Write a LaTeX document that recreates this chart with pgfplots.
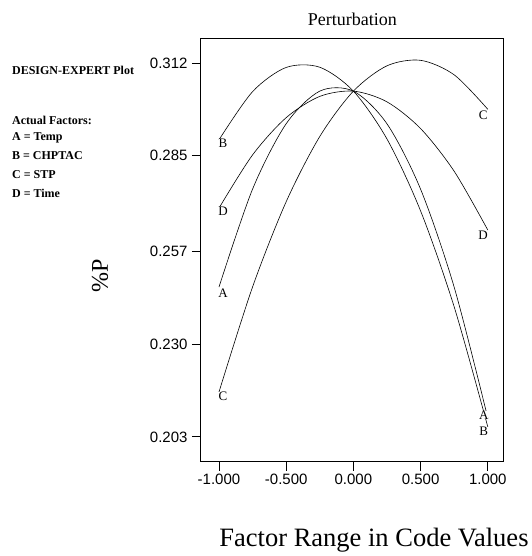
\documentclass[border=0pt]{standalone}
\usepackage{fontspec}
\setmainfont{Liberation Serif}
\setsansfont{Liberation Sans}
\usepackage{pgfplots}
\pgfplotsset{compat=1.18}
\begin{document}
\begin{tikzpicture}
\begin{axis}[
  scale only axis, width=303pt, height=423pt,
  xmin=-1.134, xmax=1.12, ymin=0.1957, ymax=0.319,
  xtick={-1,-0.5,0,0.5,1},
  xticklabels={-1.000,-0.500,0.000,0.500,1.000},
  ytick={0.203,0.230,0.257,0.285,0.312},
  yticklabels={0.203,0.230,0.257,0.285,0.312},
  tick align=outside, major tick length=9pt,
  xtick pos=left, ytick pos=left,
  axis line style={line width=1pt},
  tick style={line width=0.9pt, black},
  ticklabel style={font=\sffamily\fontsize{15}{15}\selectfont},
  yticklabel style={xshift=-1pt},
  title={Perturbation},
  title style={font=\fontsize{18}{18}\selectfont, at={(0.5,1)}, anchor=base, yshift=7pt},
  xlabel={Factor Range in Code Values},
  xlabel style={font=\fontsize{26.5}{26.5}\selectfont, at={(0.571,0)}, anchor=base, yshift=-85pt},
  ylabel={\%P},
  ylabel style={font=\fontsize{24}{24}\selectfont, at={(0,0.44)}, anchor=center, yshift=101pt},
  clip=false,
]
% A
\addplot[black, line width=0.6pt, smooth, no marks] coordinates {(-1,0.2467) (-0.75,0.27526) (-0.5,0.2943) (-0.25,0.30381) (0,0.3038) (0.25,0.29426) (0.5,0.2752) (0.75,0.24661) (1,0.2085)};
% B
\addplot[black, line width=0.6pt, smooth, no marks] coordinates {(-1,0.2896) (-0.75,0.30366) (-0.5,0.31071) (-0.25,0.31076) (0,0.3038) (0.25,0.28983) (0.5,0.26886) (0.75,0.24088) (1,0.2059)};
% C
\addplot[black, line width=0.6pt, smooth, no marks] coordinates {(-1,0.2161) (-0.75,0.24674) (-0.5,0.27158) (-0.25,0.29059) (0,0.3038) (0.25,0.31119) (0.5,0.31278) (0.75,0.30854) (1,0.2985)};
% D
\addplot[black, line width=0.6pt, smooth, no marks] coordinates {(-1,0.2697) (-0.75,0.28522) (-0.5,0.29608) (-0.25,0.30227) (0,0.3038) (0.25,0.30067) (0.5,0.29288) (0.75,0.28042) (1,0.2633)};

\begin{scope}[every node/.style={font=\fontsize{13}{13}\selectfont, inner sep=0pt, fill=white}]
\node at (axis cs:-0.97,0.2885) {B};
\node at (axis cs:-0.97,0.2689) {D};
\node at (axis cs:-0.97,0.2450) {A};
\node at (axis cs:-0.97,0.2149) {C};
\node at (axis cs:0.965,0.2968) {C};
\node at (axis cs:0.965,0.2619) {D};
\node at (axis cs:0.97,0.2094) {A};
\node at (axis cs:0.97,0.2047) {B};
\end{scope}

\begin{scope}[every node/.style={font=\bfseries\fontsize{12}{12}\selectfont, anchor=base west, inner sep=0pt}]
\node at (axis description cs:-0.624,0.915) {DESIGN-EXPERT Plot};
\node at (axis description cs:-0.624,0.799) {Actual Factors:};
\node at (axis description cs:-0.624,0.759) {A = Temp};
\node at (axis description cs:-0.624,0.714) {B = CHPTAC};
\node at (axis description cs:-0.624,0.669) {C = STP};
\node at (axis description cs:-0.624,0.626) {D = Time};
\end{scope}
\end{axis}
\path (current axis.south west) ++(-201pt,-94pt) rectangle ++(532pt,556pt);
\end{tikzpicture}
\end{document}
